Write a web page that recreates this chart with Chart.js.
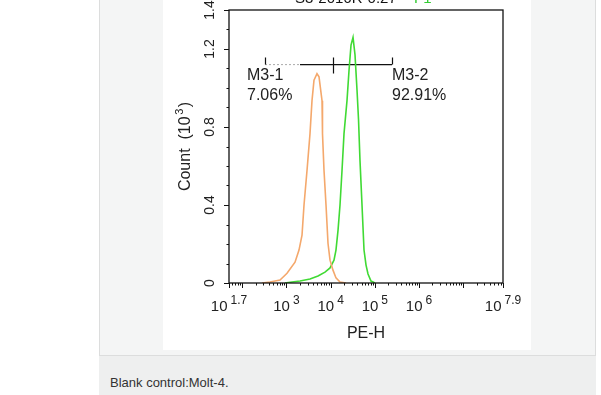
<!DOCTYPE html>
<html lang="en">
<head>
<meta charset="UTF-8">
<title>Blank control: Molt-4</title>
<script src="https://cdn.jsdelivr.net/npm/chart.js"></script>
<style>
  html, body { margin: 0; padding: 0; background: #fff; width: 601px; height: 395px; overflow: hidden; }
  .panel { position: absolute; left: 99px; top: -20px; width: 495px; height: 374px; background: #f4f5f5; border: 1px solid #dcdddd; }
  .figure { position: absolute; left: 163px; top: 0; width: 368px; height: 350px; background: #fff; }
  .caption { position: absolute; left: 99px; top: 356px; width: 497px; height: 39px; background: #eeefef; }
  .caption span { position: absolute; left: 11px; top: 19px; font: 13px "Liberation Sans", Arial, sans-serif; line-height: 15px; color: #333; }
</style>
</head>
<body>
<div class="panel"></div>
<div class="figure"><canvas id="histo" width="368" height="350"></canvas></div>
<div class="caption"><span>Blank control:Molt-4.</span></div>

<script>
// histogram traces (x = PE-H, y = count in thousands)
const orangeX = [280, 425, 715, 1030, 1563, 1923, 2250, 2496, 2918, 3412, 3785, 4200, 4910, 5457, 6380, 6540, 7080, 7855, 8710, 9680, 11300, 13200, 16290, 22300];
const orangeY = [0, 0.005, 0.015, 0.05, 0.107, 0.169, 0.245, 0.40, 0.577, 0.766, 0.935, 1.04, 1.073, 1.057, 0.935, 0.766, 0.577, 0.40, 0.204, 0.117, 0.066, 0.026, 0.005, 0];
const greenX = [927, 1336, 2027, 3412, 5180, 7450, 9680, 11900, 13200, 14680, 16290, 18080, 20060, 23450, 26040, 28900, 32100, 35600, 39500, 42700, 46100, 51250, 56900, 63200, 70100, 81900, 101000];
const greenY = [0, 0.005, 0.01, 0.02, 0.036, 0.056, 0.077, 0.117, 0.169, 0.27, 0.40, 0.577, 0.766, 0.935, 1.09, 1.22, 1.26, 1.17, 0.99, 0.84, 0.63, 0.40, 0.169, 0.092, 0.046, 0.01, 0];

// axes
const xExponents = [1.7, 3, 4, 5, 6, 7.9];
const yTicks = [0, 0.4, 0.8, 1.2, 1.4];
const yTickLabels = ['0', '0.4', '0.8', '1.2', '1.4'];

// M3 gates
const gateNames = ['M3-1', 'M3-2'];
const gatePercents = ['7.06%', '92.91%'];
const gateEdges = [327, 11300, 245000];
const gateDottedEnd = 2027;
const gateLevel = 1.12;

const FONT = '"Liberation Sans", Arial, sans-serif';
const INK = '#222';

function pts(xs, ys) { return xs.map((x, i) => ({ x: x, y: ys[i] })); }

const frame = {
  id: 'frame',
  afterDatasetsDraw(chart) {
    const ctx = chart.ctx, a = chart.chartArea;
    const xs = chart.scales.x, ys = chart.scales.y;
    ctx.save();
    ctx.strokeStyle = '#111';
    ctx.lineWidth = 1.3;
    ctx.strokeRect(a.left, a.top, a.right - a.left, a.bottom - a.top);

    // x ticks (log decades + minors)
    ctx.lineWidth = 1;
    ctx.beginPath();
    for (let d = 1; d <= 7; d++) {
      for (let m = 1; m <= 9; m++) {
        const v = m * Math.pow(10, d);
        if (v < xs.min || v > xs.max) continue;
        const px = Math.round(xs.getPixelForValue(v)) + 0.5;
        ctx.moveTo(px, a.bottom);
        ctx.lineTo(px, a.bottom + (m === 1 ? 5 : 2.5));
      }
    }
    xExponents.forEach(e => {
      const px = Math.round(xs.getPixelForValue(Math.pow(10, e))) + 0.5;
      ctx.moveTo(px, a.bottom);
      ctx.lineTo(px, a.bottom + 5);
    });
    // y ticks
    for (let i = 0; i <= 14; i++) {
      const py = Math.round(ys.getPixelForValue(i / 10)) + 0.5;
      ctx.moveTo(a.left, py);
      ctx.lineTo(a.left - (i % 4 === 0 || i === 14 ? 5 : 2.5), py);
    }
    ctx.stroke();

    // x tick labels: 10 with superscript exponent
    ctx.fillStyle = INK;
    ctx.textBaseline = 'alphabetic';
    xExponents.forEach(e => {
      const px = xs.getPixelForValue(Math.pow(10, e));
      ctx.font = '15px ' + FONT;
      const w1 = ctx.measureText('10').width;
      ctx.font = '12px ' + FONT;
      const w2 = ctx.measureText(String(e)).width;
      const start = px - (w1 + 3 + w2) / 2;
      ctx.textAlign = 'left';
      ctx.font = '15px ' + FONT;
      ctx.fillText('10', start, a.bottom + 28);
      ctx.font = '12px ' + FONT;
      ctx.fillText(String(e), start + w1 + 3, a.bottom + 21);
    });

    // y tick labels, rotated
    ctx.font = '14px ' + FONT;
    ctx.textAlign = 'center';
    yTicks.forEach((v, i) => {
      const py = ys.getPixelForValue(v);
      ctx.save();
      ctx.translate(a.left - 15, py);
      ctx.rotate(-Math.PI / 2);
      ctx.fillText(yTickLabels[i], 0, 0);
      ctx.restore();
    });

    // axis titles
    ctx.font = '16px ' + FONT;
    ctx.textAlign = 'center';
    ctx.fillText('PE-H', (a.left + a.right) / 2, a.bottom + 55);

    ctx.save();
    ctx.translate(a.left - 39, (a.top + a.bottom) / 2);
    ctx.rotate(-Math.PI / 2);
    ctx.font = '16px ' + FONT;
    const t1 = 'Count  (10', t2 = ')';
    const w1 = ctx.measureText(t1).width, w3 = ctx.measureText(t2).width;
    ctx.font = '11px ' + FONT;
    const w2 = ctx.measureText('3').width + 3;
    let x0 = -(w1 + w2 + w3) / 2;
    ctx.textAlign = 'left';
    ctx.font = '16px ' + FONT;
    ctx.fillText(t1, x0, 0);
    ctx.fillText(t2, x0 + w1 + w2, 0);
    ctx.font = '11px ' + FONT;
    ctx.fillText('3', x0 + w1 + 1.5, -7);
    ctx.restore();

    // gate ticks and labels
    const gy = ys.getPixelForValue(gateLevel);
    ctx.strokeStyle = '#111';
    ctx.lineWidth = 1.2;
    ctx.beginPath();
    gateEdges.forEach((v, i) => {
      const px = Math.round(xs.getPixelForValue(v)) + 0.5;
      ctx.moveTo(px, gy - 7);
      ctx.lineTo(px, i === 1 ? gy + 9 : gy);
    });
    ctx.stroke();
    ctx.font = '16px ' + FONT;
    ctx.textAlign = 'left';
    ctx.fillStyle = INK;
    const lx = [xs.getPixelForValue(gateEdges[0]) - 18, xs.getPixelForValue(gateEdges[2])];
    gateNames.forEach((n, i) => {
      ctx.fillText(n, lx[i], gy + 15);
      ctx.fillText(gatePercents[i], lx[i], gy + 35);
    });

    // sample title, clipped by the top edge
    ctx.font = '15px ' + FONT;
    ctx.textAlign = 'left';
    ctx.fillStyle = '#111';
    ctx.fillText('S3-2016R-0.27', 132, 3);
    ctx.fillStyle = '#3c3';
    ctx.fillText('F1', 251, 3);
    ctx.restore();
  }
};

new Chart(document.getElementById('histo'), {
  type: 'line',
  data: {
    datasets: [
      { data: pts(orangeX, orangeY), borderColor: 'rgb(244,168,108)', borderWidth: 1.6 },
      { data: pts(greenX, greenY), borderColor: 'rgb(64,218,52)', borderWidth: 1.6 },
      { data: [{ x: gateEdges[0], y: gateLevel }, { x: gateDottedEnd, y: gateLevel }], borderColor: '#aaa', borderWidth: 1, borderDash: [2, 2] },
      { data: [{ x: gateDottedEnd, y: gateLevel }, { x: gateEdges[2], y: gateLevel }], borderColor: '#111', borderWidth: 1.2 }
    ]
  },
  options: {
    responsive: false,
    animation: false,
    events: [],
    layout: { padding: { left: 66, right: 28, top: 10, bottom: 67 } },
    elements: { point: { radius: 0 }, line: { tension: 0, fill: false } },
    plugins: { legend: { display: false }, tooltip: { enabled: false }, title: { display: false } },
    scales: {
      x: {
        type: 'logarithmic',
        min: Math.pow(10, 1.7),
        max: Math.pow(10, 7.9),
        grid: { display: false },
        border: { display: false },
        ticks: { display: false },
        afterFit: s => { s.height = 0; }
      },
      y: {
        min: 0,
        max: 1.4,
        grid: { display: false },
        border: { display: false },
        ticks: { display: false },
        afterFit: s => { s.width = 0; }
      }
    }
  },
  plugins: [frame]
});
</script>
</body>
</html>
